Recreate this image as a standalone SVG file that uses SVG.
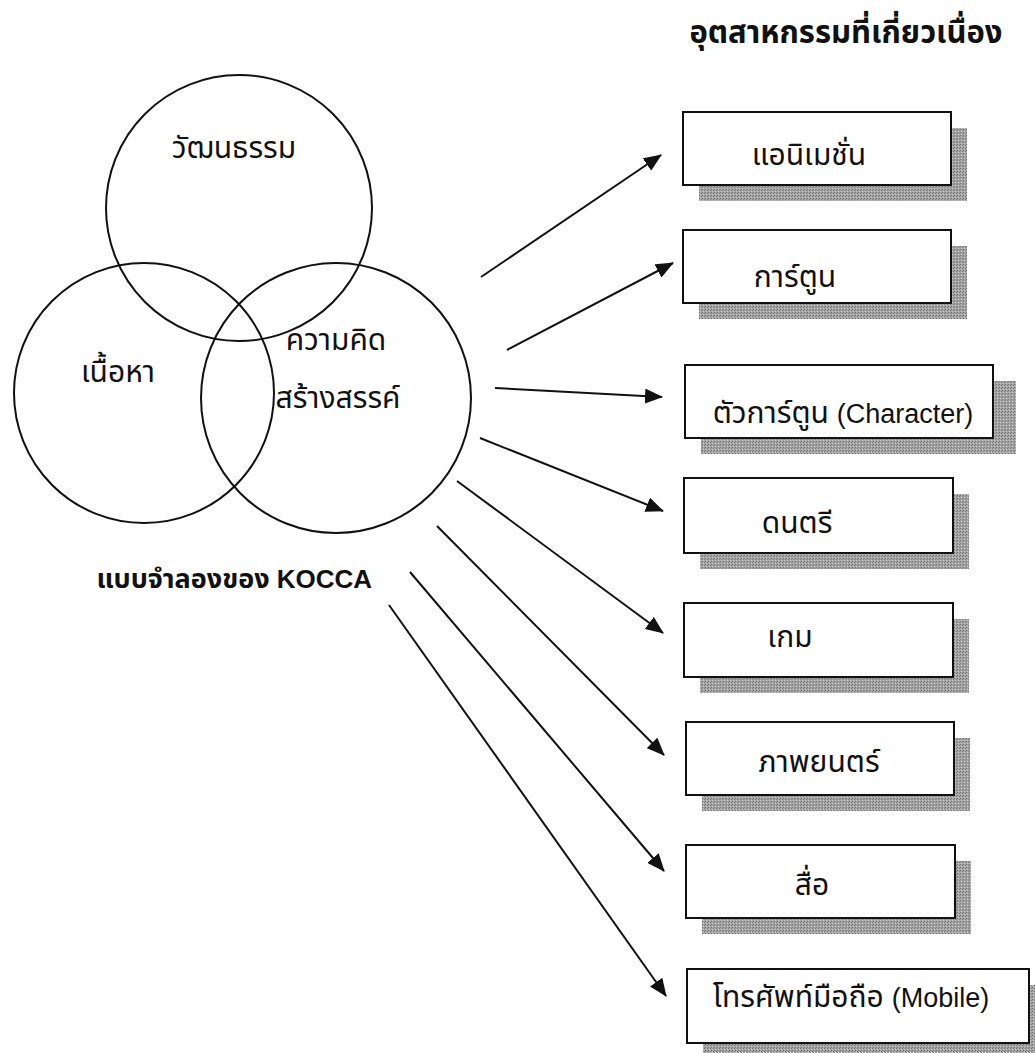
<svg xmlns="http://www.w3.org/2000/svg" width="1035" height="1053" viewBox="0 0 1035 1053">
<style>
  text { font-family: "Noto Sans Thai", "Noto Sans Thai UI", "Loma", "Garuda", "Tahoma", "Liberation Sans", "DejaVu Sans", sans-serif; fill: #111; }
  .lbl { font-size: 30px; text-anchor: middle; }
  .lat { font-family: "Liberation Sans", Arial, sans-serif; font-size: 27px; }
  .bold { font-weight: bold; }
  .circ { fill: none; stroke: #111; stroke-width: 2; }
  .box { fill: #fff; stroke: #111; stroke-width: 2; }
  .shadow { fill: url(#stipple); }
  .conn { stroke: #111; stroke-width: 2; fill: none; marker-end: url(#arrow); }
</style>
<defs>
  <pattern id="stipple" width="3" height="3" patternUnits="userSpaceOnUse">
    <rect width="3" height="3" fill="#a6a6a6"/>
    <rect x="0" y="0" width="1" height="1" fill="#6e6e6e"/>
    <rect x="2" y="1" width="1" height="1" fill="#7c7c7c"/>
    <rect x="1" y="2" width="1" height="1" fill="#c8c8c8"/>
  </pattern>
  <marker id="arrow" markerWidth="18" markerHeight="15" refX="17" refY="7.5" orient="auto" markerUnits="userSpaceOnUse">
    <path d="M0,0 L18,7.5 L0,15 Z" fill="#111"/>
  </marker>
</defs>
<rect width="1035" height="1053" fill="#fff"/>

<text class="bold" x="846" y="43" id="title" style="font-size:31px;text-anchor:middle">อุตสาหกรรมที่เกี่ยวเนื่อง</text>

<g id="venn">
  <g id="circle-culture">
    <circle class="circ" cx="239" cy="208" r="133"/>
    <text class="lbl" x="234" y="158">วัฒนธรรม</text>
  </g>
  <g id="circle-content">
    <circle class="circ" cx="144" cy="393" r="130"/>
    <text class="lbl" x="118" y="382">เนื้อหา</text>
  </g>
  <g id="circle-creativity">
    <circle class="circ" cx="336" cy="398" r="135"/>
    <text class="lbl" x="336" y="350">ความคิด</text>
    <text class="lbl" x="338" y="408">สร้างสรรค์</text>
  </g>
  <text class="bold" x="372" y="588" id="kocca" style="font-size:27px;text-anchor:end">แบบจำลองของ <tspan class="lat" style="font-size:26px">KOCCA</tspan></text>
</g>

<g id="connectors">
  <line class="conn" x1="481" y1="277" x2="661" y2="155"/>
  <line class="conn" x1="507" y1="350" x2="673" y2="263"/>
  <line class="conn" x1="495" y1="388" x2="662" y2="397"/>
  <line class="conn" x1="480" y1="438" x2="663" y2="511"/>
  <line class="conn" x1="457" y1="481" x2="663" y2="633"/>
  <line class="conn" x1="437" y1="526" x2="664" y2="755"/>
  <line class="conn" x1="410" y1="572" x2="664" y2="871"/>
  <line class="conn" x1="389" y1="605" x2="666" y2="996"/>
</g>

<g id="node-animation">
  <rect class="shadow" x="699" y="128" width="268" height="73"/>
  <rect class="box" x="683" y="112" width="268" height="73"/>
  <text class="lbl" x="809" y="165">แอนิเมชั่น</text>
</g>
<g id="node-cartoon">
  <rect class="shadow" x="699" y="246" width="268" height="73"/>
  <rect class="box" x="683" y="230" width="268" height="73"/>
  <text class="lbl" x="795" y="287">การ์ตูน</text>
</g>
<g id="node-character">
  <rect class="shadow" x="701" y="381" width="315" height="73"/>
  <rect class="box" x="685" y="365" width="308" height="73"/>
  <text class="lbl" x="843" y="423">ตัวการ์ตูน <tspan class="lat">(Character)</tspan></text>
</g>
<g id="node-music">
  <rect class="shadow" x="700" y="494" width="269" height="75"/>
  <rect class="box" x="684" y="478" width="269" height="75"/>
  <text class="lbl" x="797" y="533">ดนตรี</text>
</g>
<g id="node-game">
  <rect class="shadow" x="700" y="619" width="269" height="74"/>
  <rect class="box" x="684" y="603" width="269" height="74"/>
  <text class="lbl" x="790" y="647">เกม</text>
</g>
<g id="node-film">
  <rect class="shadow" x="702" y="738" width="268" height="73"/>
  <rect class="box" x="686" y="722" width="268" height="73"/>
  <text class="lbl" x="819" y="772">ภาพยนตร์</text>
</g>
<g id="node-media">
  <rect class="shadow" x="702" y="861" width="269" height="73"/>
  <rect class="box" x="686" y="845" width="269" height="73"/>
  <text class="lbl" x="812" y="895">สื่อ</text>
</g>
<g id="node-mobile">
  <rect class="shadow" x="703" y="985" width="340" height="74"/>
  <rect class="box" x="687" y="969" width="342" height="74"/>
  <text class="lbl" x="851" y="1007">โทรศัพท์มือถือ <tspan class="lat">(Mobile)</tspan></text>
</g>
</svg>
